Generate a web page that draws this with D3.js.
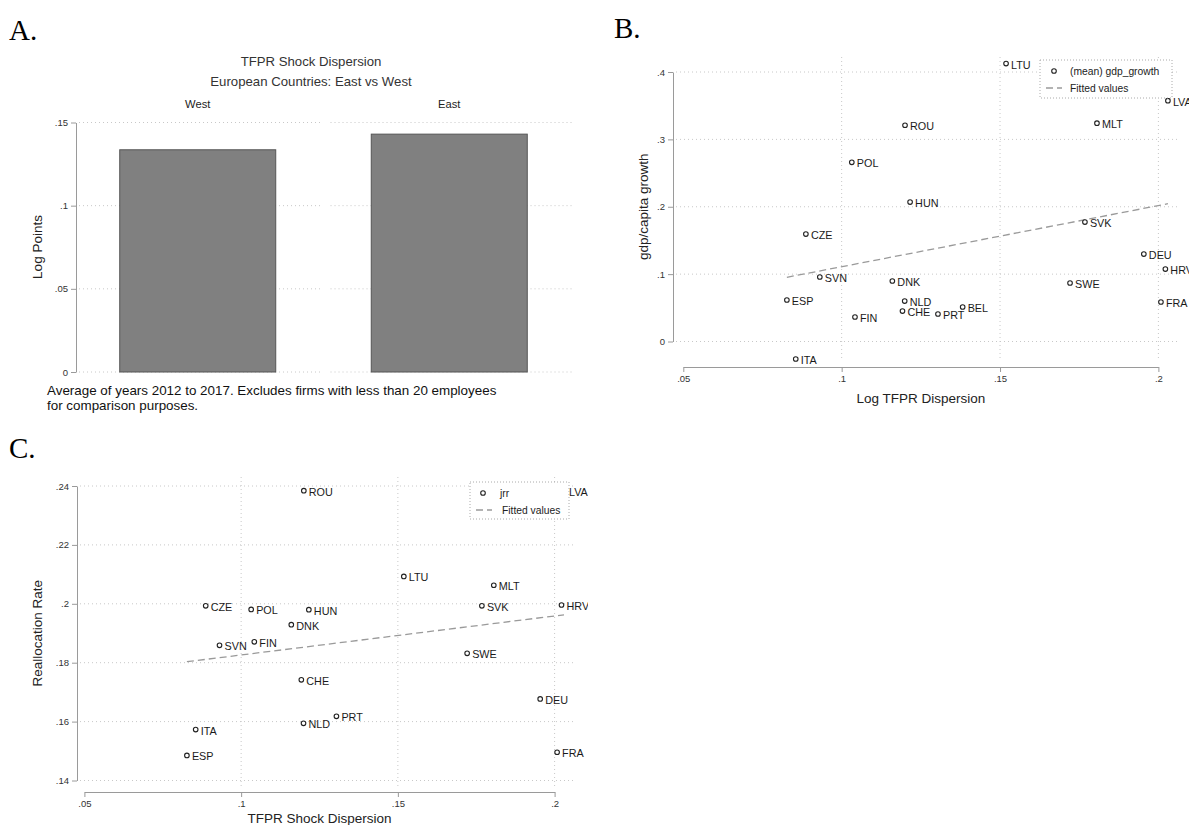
<!DOCTYPE html>
<html>
<head>
<meta charset="utf-8">
<script src="https://d3js.org/d3.v7.min.js"></script>
<style>
  body { margin: 0; background: #fff; }
  svg { font-family: "Liberation Sans", Arial, sans-serif; }
  .panel-label { font-family: "Liberation Serif", "Times New Roman", serif; font-size: 29px; fill: #000; }
  .tick text { fill: #333; font-size: 9.5px; }
  .axis path, .axis line { stroke: #9a9a9a; }
  .grid line { stroke: #c8c8c8; stroke-dasharray: 1,3; }
  .atitle { font-size: 13.5px; fill: #222; }
  .lbl { font-size: 10.8px; fill: #1a1a1a; }
</style>
</head>
<body>
<svg id="fig" width="1189" height="825"></svg>
<script>
// ---- panel A data
var regions = ["West", "East"];
var dispersion = [0.1336, 0.1430];
var ticksA = [0, 0.05, 0.1, 0.15];

// ---- panels B and C data (same countries, same x variable)
var countries = ["LTU", "LVA", "MLT", "ROU", "POL", "HUN", "CZE", "SVK", "DEU", "HRV", "SVN",
                 "DNK", "SWE", "ESP", "NLD", "FRA", "BEL", "CHE", "PRT", "FIN", "ITA"];
var tfpr      = [0.1519, 0.2030, 0.1806, 0.1200, 0.1032, 0.1216, 0.0887, 0.1768, 0.1954, 0.2022, 0.0931,
                 0.1160, 0.1721, 0.0827, 0.1199, 0.2008, 0.1382, 0.1192, 0.1304, 0.1042, 0.0855];
var gdpGrowth = [0.4125, 0.3575, 0.3240, 0.3210, 0.2660, 0.2070, 0.1595, 0.1773, 0.1298, 0.1075, 0.0957,
                 0.0898, 0.0868, 0.0616, 0.0600, 0.0586, 0.0512, 0.0452, 0.0408, 0.0364, -0.0260];
var jrr       = [0.2093, 0.2382, 0.2063, 0.2384, 0.1981, 0.1980, 0.1993, 0.1993, 0.1677, 0.1996, 0.1859,
                 0.1929, 0.1832, 0.1485, 0.1594, 0.1496, null, 0.1742, 0.1618, 0.1871, 0.1573];
var ticksX = [0.05, 0.1, 0.15, 0.2];
var ticksB = [0, 0.1, 0.2, 0.3, 0.4];
var ticksC = [0.14, 0.16, 0.18, 0.2, 0.22, 0.24];

var svg = d3.select("#fig");

// stata style labels: .15 instead of 0.15
function fmt(d) {
  if (d === 0) return "0";
  return String(+d.toFixed(3)).replace(/^0\./, ".").replace(/^-0\./, "-.");
}

function ols(xs, ys) {
  var n = xs.length, mx = d3.mean(xs), my = d3.mean(ys), sxy = 0, sxx = 0;
  for (var i = 0; i < n; i++) {
    sxy += (xs[i] - mx) * (ys[i] - my);
    sxx += (xs[i] - mx) * (xs[i] - mx);
  }
  var b = sxy / sxx;
  return { a: my - b * mx, b: b };
}

/* ---------------- panel A ---------------- */
var gA = svg.append("g");
gA.append("text").attr("class", "panel-label").attr("x", 9).attr("y", 40).text("A.");

var yA = d3.scaleLinear().domain([0, 0.15]).range([372, 122.5]);
var facet = d3.scaleBand().domain(regions).range([79, 572]).paddingInner(0.04);
var barW = 156;

gA.append("text").attr("x", 311).attr("y", 66).attr("text-anchor", "middle")
  .style("font-size", "13.2px").style("fill", "#333").text("TFPR Shock Dispersion");
gA.append("text").attr("x", 311).attr("y", 86).attr("text-anchor", "middle")
  .style("font-size", "13.2px").style("fill", "#333").text("European Countries: East vs West");

regions.forEach(function(r, i) {
  var x0 = facet(r), w = facet.bandwidth();
  gA.append("g").attr("class", "grid").selectAll("line").data(ticksA).enter().append("line")
    .attr("x1", x0).attr("x2", x0 + w)
    .attr("y1", function(d) { return yA(d); }).attr("y2", function(d) { return yA(d); });
  gA.append("text").attr("x", x0 + w / 2 - 2).attr("y", 108).attr("text-anchor", "middle")
    .style("font-size", "11.2px").style("fill", "#222").text(r);
  gA.append("rect")
    .attr("x", x0 + w / 2 - 2 - barW / 2).attr("width", barW)
    .attr("y", yA(dispersion[i])).attr("height", yA(0) - yA(dispersion[i]))
    .attr("fill", "#808080").attr("stroke", "#555").attr("stroke-width", 1);
});

gA.append("g").attr("class", "axis").attr("transform", "translate(76,0)")
  .call(d3.axisLeft(yA).tickValues(ticksA).tickFormat(fmt).tickSize(5).tickSizeOuter(0));

gA.append("text").attr("class", "atitle").attr("transform", "translate(37,247) rotate(-90)")
  .attr("text-anchor", "middle").attr("dominant-baseline", "central").text("Log Points");

gA.append("text").attr("x", 47).attr("y", 395).style("font-size", "13.4px").style("fill", "#111")
  .text("Average of years 2012 to 2017. Excludes firms with less than 20 employees");
gA.append("text").attr("x", 47).attr("y", 410).style("font-size", "13.4px").style("fill", "#111")
  .text("for comparison purposes.");

/* ---------------- scatter panels ---------------- */
function scatter(g, o) {
  var x = d3.scaleLinear().domain([0.05, 0.2]).range(o.xr);
  var y = d3.scaleLinear().domain(o.yd).range(o.yr);

  var gh = g.append("g").attr("class", "grid");
  gh.selectAll("line.h").data(o.yt).enter().append("line").attr("class", "h")
    .attr("x1", o.gx[0]).attr("x2", o.gx[1])
    .attr("y1", function(d) { return y(d); }).attr("y2", function(d) { return y(d); });
  gh.selectAll("line.v").data(ticksX.slice(1)).enter().append("line").attr("class", "v")
    .attr("y1", o.gy[0]).attr("y2", o.gy[1])
    .attr("x1", function(d) { return x(d); }).attr("x2", function(d) { return x(d); });

  g.append("g").attr("class", "axis").attr("transform", "translate(" + o.ax + ",0)")
    .call(d3.axisLeft(y).tickValues(o.yt).tickFormat(fmt).tickSize(5).tickSizeOuter(0));
  g.append("g").attr("class", "axis").attr("transform", "translate(0," + o.ay + ")")
    .call(d3.axisBottom(x).tickValues(ticksX).tickFormat(fmt).tickSize(5).tickSizeOuter(0));

  var pts = [];
  countries.forEach(function(c, i) {
    if (o.vals[i] !== null) pts.push({ c: c, x: tfpr[i], y: o.vals[i] });
  });
  var fit = ols(pts.map(function(p) { return p.x; }), pts.map(function(p) { return p.y; }));
  var xmin = d3.min(pts, function(p) { return p.x; }), xmax = d3.max(pts, function(p) { return p.x; });
  g.append("line")
    .attr("x1", x(xmin)).attr("y1", y(fit.a + fit.b * xmin))
    .attr("x2", x(xmax)).attr("y2", y(fit.a + fit.b * xmax))
    .attr("stroke", "#9a9a9a").attr("stroke-width", 1.3).attr("stroke-dasharray", "7,4");

  var pg = g.append("g");
  pg.selectAll("circle").data(pts).enter().append("circle")
    .attr("cx", function(d) { return x(d.x); }).attr("cy", function(d) { return y(d.y); })
    .attr("r", 2.3).attr("fill", "#fff").attr("stroke", "#222").attr("stroke-width", 1.1);
  pg.selectAll("text").data(pts).enter().append("text").attr("class", "lbl")
    .attr("x", function(d) { return x(d.x) + 5; }).attr("y", function(d) { return y(d.y) + 1; })
    .attr("dominant-baseline", "central").text(function(d) { return d.c; });

  // legend
  var L = o.leg;
  var lg = g.append("g");
  lg.append("rect").attr("x", L.x).attr("y", L.y).attr("width", L.w).attr("height", L.h)
    .attr("fill", "#fff").attr("stroke", "#aaa").attr("stroke-dasharray", "1,2");
  lg.append("circle").attr("cx", L.x + L.mx).attr("cy", L.y + 11).attr("r", 2.3)
    .attr("fill", "#fff").attr("stroke", "#222").attr("stroke-width", 1.1);
  lg.append("text").attr("x", L.x + L.tx).attr("y", L.y + 11).attr("dominant-baseline", "central")
    .style("font-size", "10.3px").style("fill", "#222").text(o.name);
  lg.append("line").attr("x1", L.x + 6).attr("x2", L.x + 22).attr("y1", L.y + 28).attr("y2", L.y + 28)
    .attr("stroke", "#9a9a9a").attr("stroke-width", 1.3).attr("stroke-dasharray", "7,4");
  lg.append("text").attr("x", L.x + L.tx2).attr("y", L.y + 28).attr("dominant-baseline", "central")
    .style("font-size", "10.3px").style("fill", "#222").text("Fitted values");

  g.append("text").attr("class", "atitle").attr("x", (o.xr[0] + o.xr[1]) / 2 + o.xo).attr("y", o.xty)
    .attr("text-anchor", "middle").text(o.xt);
  g.append("text").attr("class", "atitle")
    .attr("transform", "translate(" + o.ytx + "," + (o.yr[0] + o.yr[1]) / 2 + ") rotate(-90)")
    .attr("text-anchor", "middle").attr("dominant-baseline", "central").text(o.ytl);
}

/* panel B */
var gB = svg.append("g");
gB.append("text").attr("class", "panel-label").attr("x", 614).attr("y", 38).text("B.");
scatter(gB, {
  xr: [683.3, 1158.4], yd: [0, 0.4], yr: [341.5, 72], yt: ticksB, vals: gdpGrowth,
  gx: [676, 1178], gy: [57, 361], ax: 673, ay: 367,
  leg: { x: 1040, y: 60, w: 132, h: 38, mx: 14, tx: 30, tx2: 30 }, name: "(mean) gdp_growth",
  xt: "Log TFPR Dispersion", xo: 0, xty: 403, ytl: "gdp/capita growth", ytx: 643
});

/* panel C */
svg.append("defs").append("clipPath").attr("id", "clipC")
  .append("rect").attr("x", 0).attr("y", 420).attr("width", 588).attr("height", 405);
var gC = svg.append("g").attr("clip-path", "url(#clipC)");
gC.append("text").attr("class", "panel-label").attr("x", 9).attr("y", 458).text("C.");
scatter(gC, {
  xr: [84.4, 554.6], yd: [0.14, 0.24], yr: [780.5, 486], yt: ticksC, vals: jrr,
  gx: [80, 576], gy: [477, 786], ax: 77, ay: 792,
  leg: { x: 470, y: 482, w: 99, h: 37, mx: 13, tx: 30, tx2: 32 }, name: "jrr",
  xt: "TFPR Shock Dispersion", xo: 0, xty: 823, ytl: "Reallocation Rate", ytx: 37
});
</script>
</body>
</html>
